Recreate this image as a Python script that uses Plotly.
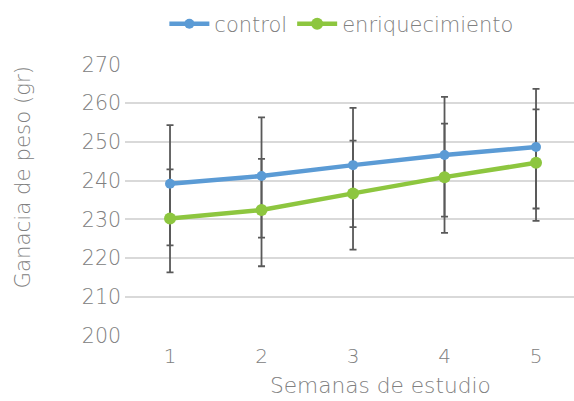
import plotly.graph_objects as go

weeks = [1, 2, 3, 4, 5]
week_labels = ["1", "2", "3", "4", "5"]

control = [239.2, 241.2, 244.0, 246.6, 248.7]
control_err_up = [15.1, 15.1, 14.8, 15.0, 15.0]
control_err_down = [15.9, 15.9, 16.0, 15.9, 15.9]

enriq = [230.2, 232.4, 236.7, 240.9, 244.6]
enriq_err_up = [12.7, 13.2, 13.6, 13.8, 13.8]
enriq_err_down = [13.9, 14.5, 14.5, 14.4, 15.0]

y_ticks = [200, 210, 220, 230, 240, 250, 260, 270]

FONT = "DejaVu Sans"
W = 200
GRAY = "#808080"
BLUE = "#5b9bd5"
GREEN = "#8dc63f"
ERR = "#595959"

fig = go.Figure()

for vals, up, dn in [(control, control_err_up, control_err_down),
                     (enriq, enriq_err_up, enriq_err_down)]:
    fig.add_trace(go.Scatter(
        x=weeks, y=vals, mode="markers",
        marker=dict(size=1, opacity=0),
        error_y=dict(type="data", symmetric=False, array=up, arrayminus=dn,
                     color=ERR, thickness=1.8, width=3.5),
        showlegend=False, hoverinfo="skip"))

fig.add_trace(go.Scatter(
    x=weeks, y=control, mode="lines+markers", name="control",
    line=dict(color=BLUE, width=4.5),
    marker=dict(color=BLUE, size=10)))
fig.add_trace(go.Scatter(
    x=weeks, y=enriq, mode="lines+markers", name="enriquecimiento",
    line=dict(color=GREEN, width=4.5),
    marker=dict(color=GREEN, size=12)))

fig.update_layout(
    width=574, height=401,
    margin=dict(l=125, r=0, t=64, b=65),
    paper_bgcolor="white", plot_bgcolor="white",
    font=dict(family=FONT, color=GRAY, size=20, weight=W),
    legend=dict(orientation="h", x=0.483, xanchor="center", y=0.94, yanchor="middle",
                yref="container", font=dict(size=21, color=GRAY, family=FONT, weight=W),
                itemwidth=40, tracegroupgap=0, bgcolor="rgba(0,0,0,0)"),
    xaxis=dict(range=[0.508, 5.415], tickvals=weeks, ticktext=week_labels,
               showgrid=False, zeroline=False, showline=False, ticks="",
               ticklabelstandoff=6,
               tickfont=dict(size=20, color=GRAY, family=FONT, weight=W)),
    yaxis=dict(range=[199.9, 270.1], tickvals=y_ticks, showgrid=True,
               gridcolor="#d9d9d9", gridwidth=1.5, zeroline=False, showline=False,
               ticks="", ticklabelstandoff=3,
               tickfont=dict(size=20.5, color=GRAY, family=FONT, weight=W)),
    annotations=[
        dict(text="Semanas de estudio", xref="paper", yref="paper",
             x=(380 - 125) / 449, y=(336 - 385) / 272, xanchor="center", yanchor="middle",
             showarrow=False, font=dict(size=21.7, color=GRAY, family=FONT, weight=W)),
        dict(text="Ganacia de peso (gr)", xref="paper", yref="paper",
             x=(22 - 125) / 449, y=(336 - 177.5) / 272, xanchor="center", yanchor="middle",
             textangle=-90, showarrow=False,
             font=dict(size=21.3, color=GRAY, family=FONT, weight=W)),
    ],
)

fig.write_html("out.html")
